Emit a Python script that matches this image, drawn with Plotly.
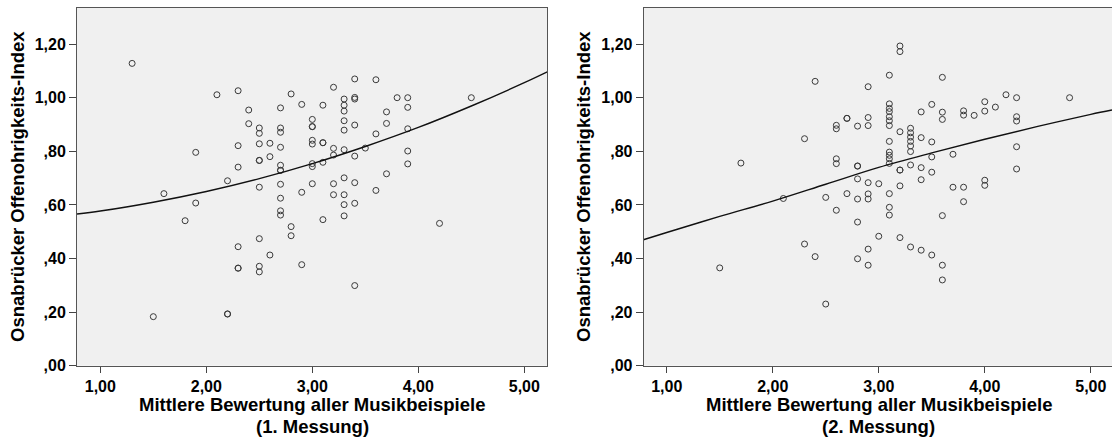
import plotly.graph_objects as go

# ---- data ----
left_x = [1.3, 1.5, 1.6, 1.8, 1.9, 1.9, 2.1, 2.2, 2.2, 2.2,
          2.3, 2.3, 2.3, 2.3, 2.3, 2.3, 2.4, 2.4,
          2.5, 2.5, 2.5, 2.5, 2.5, 2.5, 2.5, 2.5, 2.5,
          2.6, 2.6, 2.6,
          2.7, 2.7, 2.7, 2.7, 2.7, 2.7, 2.7, 2.7, 2.7, 2.7, 2.7,
          2.8, 2.8, 2.8, 2.9, 2.9, 2.9,
          3.0, 3.0, 3.0, 3.0, 3.0, 3.0, 3.0, 3.0,
          3.1, 3.1, 3.1, 3.1, 3.1,
          3.2, 3.2, 3.2, 3.2, 3.2,
          3.3, 3.3, 3.3, 3.3, 3.3, 3.3, 3.3, 3.3, 3.3, 3.3,
          3.4, 3.4, 3.4, 3.4, 3.4, 3.4, 3.4, 3.4,
          3.5, 3.6, 3.6, 3.6, 3.7, 3.7, 3.7, 3.8,
          3.9, 3.9, 3.9, 3.9, 3.9, 4.2, 4.5]
left_y = [1.128, 0.183, 0.642, 0.541, 0.796, 0.607, 1.011, 0.690, 0.193, 0.193,
          1.026, 0.821, 0.741, 0.444, 0.364, 0.364, 0.954, 0.903,
          0.887, 0.867, 0.828, 0.766, 0.766, 0.666, 0.474, 0.371, 0.350,
          0.830, 0.780, 0.413,
          0.962, 0.887, 0.871, 0.815, 0.748, 0.729, 0.729, 0.677, 0.625, 0.578, 0.562,
          1.014, 0.519, 0.485, 0.975, 0.647, 0.377,
          0.919, 0.892, 0.892, 0.841, 0.827, 0.754, 0.743, 0.679,
          0.972, 0.832, 0.832, 0.759, 0.545,
          1.039, 0.811, 0.786, 0.679, 0.638,
          0.995, 0.972, 0.950, 0.914, 0.879, 0.806, 0.701, 0.638, 0.601, 0.559,
          1.070, 1.001, 0.995, 0.898, 0.782, 0.683, 0.606, 0.299,
          0.812, 1.067, 0.865, 0.654, 0.947, 0.904, 0.716, 1.000,
          1.000, 0.964, 0.884, 0.801, 0.753, 0.531, 1.000]

right_x = [1.5, 1.7, 2.1, 2.3, 2.3, 2.4, 2.4, 2.5, 2.5,
           2.6, 2.6, 2.6, 2.6, 2.6, 2.7, 2.7, 2.7,
           2.8, 2.8, 2.8, 2.8, 2.8, 2.8, 2.8,
           2.9, 2.9, 2.9, 2.9, 2.9, 2.9, 2.9, 2.9,
           3.0, 3.0,
           3.1, 3.1, 3.1, 3.1, 3.1, 3.1, 3.1, 3.1, 3.1, 3.1, 3.1, 3.1, 3.1, 3.1, 3.1,
           3.2, 3.2, 3.2, 3.2, 3.2, 3.2, 3.2,
           3.3, 3.3, 3.3, 3.3, 3.3, 3.3, 3.3, 3.3,
           3.4, 3.4, 3.4, 3.4, 3.4,
           3.5, 3.5, 3.5, 3.5, 3.5,
           3.6, 3.6, 3.6, 3.6, 3.6, 3.6,
           3.7, 3.7, 3.8, 3.8, 3.8, 3.8, 3.9,
           4.0, 4.0, 4.0, 4.0, 4.1, 4.2,
           4.3, 4.3, 4.3, 4.3, 4.3, 4.8]
right_y = [0.365, 0.756, 0.624, 0.847, 0.454, 1.061, 0.407, 0.628, 0.230,
           0.897, 0.884, 0.772, 0.754, 0.580, 0.923, 0.923, 0.642,
           0.894, 0.745, 0.745, 0.697, 0.622, 0.536, 0.399,
           1.041, 0.926, 0.896, 0.683, 0.641, 0.622, 0.435, 0.375,
           0.679, 0.483,
           1.084, 0.977, 0.960, 0.948, 0.929, 0.914, 0.896, 0.837, 0.797, 0.785, 0.772, 0.755, 0.642, 0.591, 0.562,
           1.193, 1.172, 0.873, 0.730, 0.730, 0.671, 0.478,
           0.886, 0.869, 0.853, 0.837, 0.820, 0.799, 0.749, 0.443,
           0.947, 0.851, 0.739, 0.694, 0.431,
           0.975, 0.835, 0.779, 0.722, 0.413,
           1.076, 0.946, 0.919, 0.560, 0.375, 0.320,
           0.789, 0.666, 0.951, 0.935, 0.666, 0.612, 0.934,
           0.985, 0.950, 0.692, 0.673, 0.965, 1.011,
           1.000, 0.929, 0.913, 0.817, 0.734, 1.000]

# fitted curves
left_curve_x = [0.78, 1.0, 1.5, 2.0, 2.5, 3.0, 3.5, 4.0, 4.5, 5.0, 5.22]
left_curve_y = [0.566, 0.577, 0.610, 0.650, 0.698, 0.754, 0.818, 0.889, 0.969, 1.056, 1.097]
right_curve_x = [0.78, 1.0, 1.5, 2.0, 2.5, 3.0, 3.5, 4.0, 4.5, 5.0, 5.2]
right_curve_y = [0.470, 0.497, 0.557, 0.614, 0.677, 0.740, 0.794, 0.845, 0.893, 0.938, 0.954]

x_tickvals = [1, 2, 3, 4, 5]
x_ticktext = ["1,00", "2,00", "3,00", "4,00", "5,00"]
y_tickvals = [0, 0.2, 0.4, 0.6, 0.8, 1.0, 1.2]
y_ticktext = [",00", ",20", ",40", ",60", ",80", "1,00", "1,20"]

y_title = "Osnabrücker Offenohrigkeits-Index"
x_title_1 = "Mittlere Bewertung aller Musikbeispiele"
x_subtitles = ["(1. Messung)", "(2. Messung)"]

FONT = "Liberation Sans, Arial, sans-serif"
W, H = 1112, 441

fig = go.Figure()

marker = dict(symbol="circle-open", size=6, color="#3a3a3a", line=dict(width=1, color="#3a3a3a"))

fig.add_trace(go.Scatter(x=left_x, y=left_y, mode="markers", marker=marker,
                         xaxis="x", yaxis="y", hoverinfo="x+y"))
fig.add_trace(go.Scatter(x=left_curve_x, y=left_curve_y, mode="lines",
                         line=dict(color="#111111", width=1.4, shape="spline"),
                         xaxis="x", yaxis="y"))
fig.add_trace(go.Scatter(x=right_x, y=right_y, mode="markers", marker=marker,
                         xaxis="x2", yaxis="y2", hoverinfo="x+y"))
fig.add_trace(go.Scatter(x=right_curve_x, y=right_curve_y, mode="lines",
                         line=dict(color="#111111", width=1.4, shape="spline"),
                         xaxis="x2", yaxis="y2"))

top_px, bottom_px = 8, 365.7
ydom = [(H - bottom_px) / H, (H - top_px) / H]
yrange = [0, (bottom_px - top_px) / 268.0]

def xaxis(dom, rng, anchor, mirror):
    return dict(domain=dom, range=rng, anchor=anchor,
                tickvals=x_tickvals, ticktext=["<b>%s</b>" % t for t in x_ticktext],
                ticks="outside", ticklen=6, tickwidth=1, tickcolor="#444",
                showline=True, linecolor="#555", linewidth=1, mirror=mirror,
                showgrid=False, zeroline=False, automargin=False,
                tickfont=dict(family=FONT, size=16, color="#000"))

def yaxis(anchor, mirror):
    return dict(domain=ydom, range=yrange, anchor=anchor,
                tickvals=y_tickvals, ticktext=["<b>%s</b>" % t for t in y_ticktext],
                ticks="outside", ticklen=7, tickwidth=1, tickcolor="#444",
                showline=True, linecolor="#555", linewidth=1, mirror=mirror,
                showgrid=False, zeroline=False, automargin=False,
                tickfont=dict(family=FONT, size=16, color="#000"))

lx0, lx1 = 77 / W, 547 / W
rx0, rx1 = 643.7 / W, 1.0

fig.update_layout(
    width=W, height=H, autosize=False,
    margin=dict(l=0, r=0, t=0, b=0, pad=0),
    paper_bgcolor="white",
    plot_bgcolor="#f0f0f0",
    showlegend=False,
    xaxis=xaxis([lx0, lx1], [0.78, 5.214], "y", True),
    yaxis=yaxis("x", True),
    xaxis2=xaxis([rx0, rx1], [0.783, 5.2], "y2", True),
    yaxis2=yaxis("x2", False),
)

annotations = []
for i, cxp in enumerate([312.0, 878.5]):
    cx = cxp / W
    annotations.append(dict(text="<b>%s</b>" % x_title_1, x=cx, y=(H - 404.5) / H,
                            xref="paper", yref="paper", xanchor="center", yanchor="middle",
                            showarrow=False, font=dict(family=FONT, size=18.5, color="#000")))
    annotations.append(dict(text="<b>%s</b>" % x_subtitles[i], x=cx, y=(H - 426.5) / H,
                            xref="paper", yref="paper", xanchor="center", yanchor="middle",
                            showarrow=False, font=dict(family=FONT, size=18.5, color="#000")))
for xc in [18, 584]:
    annotations.append(dict(text="<b>%s</b>" % y_title, x=xc / W, y=(H - 186.9) / H,
                            xref="paper", yref="paper", xanchor="center", yanchor="middle",
                            textangle=-90, showarrow=False,
                            font=dict(family=FONT, size=18.5, color="#000")))
fig.update_layout(annotations=annotations)

fig.write_html("out.html", config={"responsive": False})
